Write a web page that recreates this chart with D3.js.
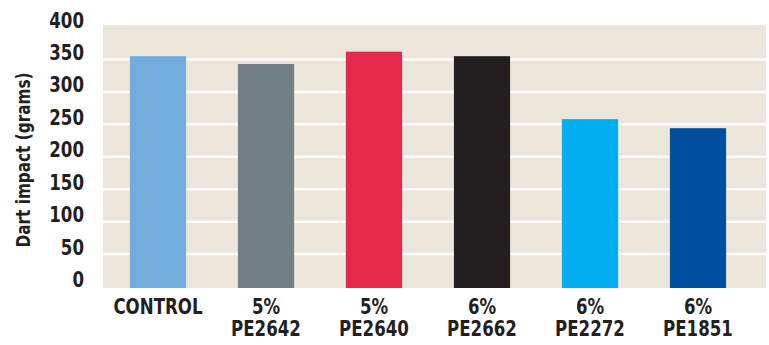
<!DOCTYPE html>
<html>
<head>
<meta charset="utf-8">
<script src="https://cdn.jsdelivr.net/npm/d3@7"></script>
<style>
  body { margin: 0; background: #fff; }
  text { font-family: "Liberation Sans Narrow", "DejaVu Sans Condensed", sans-serif; font-weight: bold; fill: #231f20; }
</style>
</head>
<body>
<svg id="chart" width="769" height="345"></svg>
<script>
// chart data
var groups = ['CONTROL', '5%|PE2642', '5%|PE2640', '6%|PE2662', '6%|PE2272', '6%|PE1851'];
var dartValues = [355, 343, 362, 355, 258, 244];
var barColors = ['#72acdc', '#727f84', '#e4294a', '#231f20', '#00aeef', '#004f9f'];
var yTicks = [0, 50, 100, 150, 200, 250, 300, 350, 400];

var svg = d3.select('#chart');
var plotLeft = 103, plotRight = 766, plotTop = 25, plotBottom = 288;
var squeeze = 0.88; // narrow the fallback font toward the condensed original

function condense(sel) {
  sel.each(function () {
    var w = this.getComputedTextLength();
    d3.select(this)
      .attr('textLength', w * squeeze)
      .attr('lengthAdjust', 'spacingAndGlyphs');
  });
}

var xScale = d3.scaleBand()
  .domain(groups)
  .range([104, 752])
  .paddingInner(0.48)
  .paddingOuter(0.24);

var yScale = d3.scaleLinear()
  .domain([0, 400])
  .range([286.5, 27]);

// background panel
svg.append('rect')
  .attr('x', plotLeft)
  .attr('y', plotTop)
  .attr('width', plotRight - plotLeft)
  .attr('height', plotBottom - plotTop)
  .attr('fill', '#ebe5da');

// gridlines
svg.append('g')
  .selectAll('line')
  .data(yTicks.filter(function (d) { return d > 0 && d < 400; }))
  .enter().append('line')
  .attr('x1', plotLeft)
  .attr('x2', plotRight)
  .attr('y1', function (d) { return yScale(d); })
  .attr('y2', function (d) { return yScale(d); })
  .attr('stroke', '#ffffff')
  .attr('stroke-width', 2.5);

// bars
svg.append('g')
  .selectAll('rect')
  .data(groups)
  .enter().append('rect')
  .attr('x', function (d) { return xScale(d); })
  .attr('width', xScale.bandwidth())
  .attr('y', function (d, i) { return yScale(dartValues[i]); })
  .attr('height', function (d, i) { return yScale(0) - yScale(dartValues[i]) + 1.5; })
  .attr('fill', function (d, i) { return barColors[i]; });

// y axis labels
var yAxis = svg.append('g')
  .attr('transform', 'translate(84,0)')
  .call(d3.axisLeft(yScale).tickValues(yTicks).tickSize(0).tickPadding(0));
yAxis.select('.domain').remove();
yAxis.selectAll('text')
  .attr('dy', 0)
  .style('font-size', '21px')
  .style('font-family', null)
  .call(condense);

// x labels
var xAxis = svg.append('g')
  .attr('transform', 'translate(0,' + plotBottom + ')');
xAxis.selectAll('text')
  .data(groups)
  .enter().append('text')
  .attr('text-anchor', 'middle')
  .style('font-size', '21px')
  .each(function (d) {
    var parts = d.split('|');
    var t = d3.select(this);
    parts.forEach(function (p, i) {
      t.append('tspan')
        .attr('x', xScale(d) + xScale.bandwidth() / 2)
        .attr('y', 26 + i * 22)
        .text(p);
    });
  });
xAxis.selectAll('tspan').call(condense);

// y axis title
svg.append('text')
  .attr('transform', 'translate(30,160) rotate(-90)')
  .attr('text-anchor', 'middle')
  .style('font-size', '20px')
  .text('Dart impact (grams)')
  .attr('textLength', 175)
  .attr('lengthAdjust', 'spacingAndGlyphs');
</script>
</body>
</html>
